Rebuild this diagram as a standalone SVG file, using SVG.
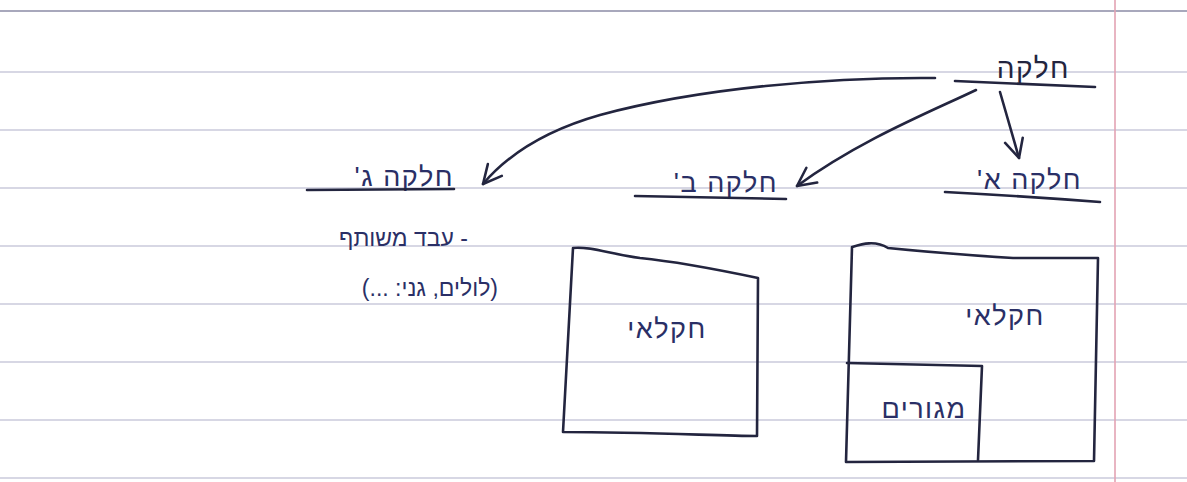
<svg xmlns="http://www.w3.org/2000/svg" width="1187" height="482" viewBox="0 0 1187 482">
<defs>
<style>
.rule{stroke:#cacadb;stroke-width:1.4;fill:none}
.ink{stroke:#23253f;stroke-width:2.6;fill:none;stroke-linecap:round;stroke-linejoin:round}
.t{font-family:"Liberation Sans","DejaVu Sans",sans-serif;fill:#23253f;font-size:28px;letter-spacing:1.5px}
.tb{font-family:"Liberation Sans","DejaVu Sans",sans-serif;fill:#2a2f66;font-size:27px;letter-spacing:1.5px}
.ts{font-family:"Liberation Sans","DejaVu Sans",sans-serif;fill:#2a2f66;font-size:23px}
</style>
<marker id="hd" viewBox="0 0 12 12" refX="11" refY="6" markerWidth="22" markerHeight="22" markerUnits="userSpaceOnUse" orient="auto">
<path d="M1,1 L11,6 L1,11" fill="none" stroke="#23253f" stroke-width="1.4" stroke-linecap="round" stroke-linejoin="round"/>
</marker>
</defs>
<rect width="1187" height="482" fill="#ffffff"/>
<g id="paper">
<line x1="0" y1="11" x2="1187" y2="11" stroke="#a8a8bc" stroke-width="1.8"/>
<line class="rule" x1="0" y1="72" x2="1187" y2="72"/>
<line class="rule" x1="0" y1="130" x2="1187" y2="130"/>
<line class="rule" x1="0" y1="188" x2="1187" y2="188"/>
<line class="rule" x1="0" y1="246" x2="1187" y2="246"/>
<line class="rule" x1="0" y1="304" x2="1187" y2="304"/>
<line class="rule" x1="0" y1="362" x2="1187" y2="362"/>
<line class="rule" x1="0" y1="420" x2="1187" y2="420"/>
<line class="rule" x1="0" y1="478" x2="1187" y2="478"/>
<line x1="1115" y1="0" x2="1115" y2="482" stroke="#e3a3b3" stroke-width="1.6"/>
</g>
<g id="connectors">
<path class="ink" d="M1000,92 L1019,158" marker-end="url(#hd)"/>
<path class="ink" d="M976,90 C930,112 860,140 797,186" marker-end="url(#hd)"/>
<path class="ink" d="M935,78 C830,77 700,88 600,115 C540,132 505,158 483,184" marker-end="url(#hd)"/>
</g>
<g id="node-root">
<text class="t" x="1070" y="78" text-anchor="end">&#x200F;חלקה&#x200F;</text>
<path class="ink" d="M955,81 Q1020,84 1095,87"/>
</g>
<g id="node-a">
<text class="tb" x="1082" y="189" text-anchor="end">&#x200F;חלקה א'&#x200F;</text>
<path class="ink" d="M945,192 Q1020,196 1100,202"/>
</g>
<g id="node-b">
<text class="tb" x="778" y="192" text-anchor="end">&#x200F;חלקה ב'&#x200F;</text>
<path class="ink" d="M635,196 L786,199"/>
</g>
<g id="node-c">
<text class="tb" x="454" y="186" text-anchor="end">&#x200F;חלקה ג'&#x200F;</text>
<path class="ink" d="M307,190 L454,189"/>
<text class="ts" x="468" y="246" text-anchor="end">&#x200F;- עבד משותף&#x200F;</text>
<text class="ts" x="498" y="296" text-anchor="end">&#x200F;(לולים, גני: ...)&#x200F;</text>
</g>
<g id="box-b">
<path class="ink" d="M573,248 C590,246 610,254 640,258 C680,262 720,270 758,278 L757,436 C720,436 650,432 563,432 Z"/>
<text class="tb" x="667" y="338" text-anchor="middle">&#x200F;חקלאי&#x200F;</text>
</g>
<g id="box-a">
<path class="ink" d="M852,247 C862,244 875,240 888,248 C930,252 980,256 1013,258 L1098,258 L1094,461 L846,462 Z"/>
<text class="tb" x="1005" y="325" text-anchor="middle">&#x200F;חקלאי&#x200F;</text>
<g id="box-a-inner">
<path class="ink" d="M847,363 L982,366 L978,460"/>
<text class="tb" x="924" y="418" text-anchor="middle">&#x200F;מגורים&#x200F;</text>
</g>
</g>
</svg>
